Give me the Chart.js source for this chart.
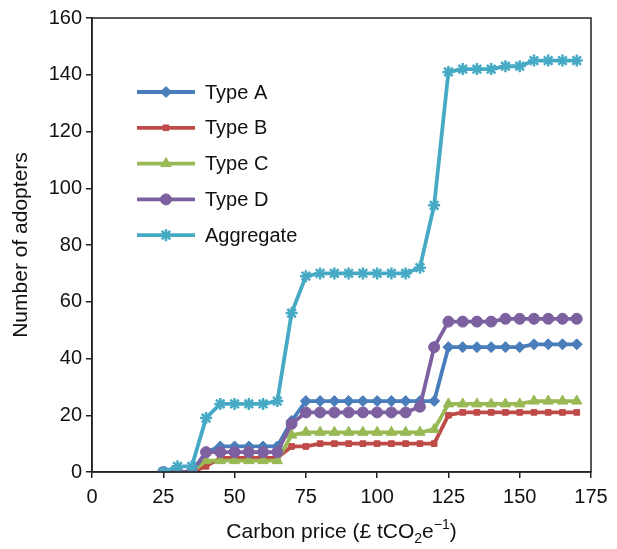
<!DOCTYPE html>
<html>
<head>
<meta charset="utf-8">
<script src="https://cdn.jsdelivr.net/npm/chart.js@4"></script>
<style>
  body { margin: 0; background: #fff; }
  #wrap { width: 617px; height: 549px; }
</style>
</head>
<body>
<div id="wrap"><canvas id="adoptersChart" width="617" height="549"></canvas></div>
<script>
// carbon price (x) and number of adopters per type
const carbonPrice = [25, 30, 35, 40, 45, 50, 55, 60, 65, 70, 75, 80, 85, 90, 95,
                     100, 105, 110, 115, 120, 125, 130, 135, 140, 145, 150, 155, 160, 165, 170];
const typeA = [0, 0, 0, 7, 9, 9, 9, 9, 9, 18, 25, 25, 25, 25, 25,
               25, 25, 25, 25, 25, 44, 44, 44, 44, 44, 44, 45, 45, 45, 45];
const typeB = [0, 0, 0, 2, 5, 5, 5, 5, 5, 9, 9, 10, 10, 10, 10,
               10, 10, 10, 10, 10, 20, 21, 21, 21, 21, 21, 21, 21, 21, 21];
const typeC = [0, 0, 0, 4, 4, 4, 4, 4, 4, 13, 14, 14, 14, 14, 14,
               14, 14, 14, 14, 15, 24, 24, 24, 24, 24, 24, 25, 25, 25, 25];
const typeD = [0, 0, 0, 7, 7, 7, 7, 7, 7, 17, 21, 21, 21, 21, 21,
               21, 21, 21, 23, 44, 53, 53, 53, 53, 54, 54, 54, 54, 54, 54];
const aggregate = [0, 2, 2, 19, 24, 24, 24, 24, 25, 56, 69, 70, 70, 70, 70,
                   70, 70, 70, 72, 94, 141, 142, 142, 142, 143, 143, 145, 145, 145, 145];

const xTicks = [0, 25, 50, 75, 100, 125, 150, 175];
const yTicks = [0, 20, 40, 60, 80, 100, 120, 140, 160];

const seriesNames = ['Type A', 'Type B', 'Type C', 'Type D', 'Aggregate'];
const seriesColors = ['#4a7ebb', '#be4b48', '#98b954', '#7d60a0', '#46aac5'];
const seriesMarkers = ['rectRot', 'rect', 'triangle', 'circle', 'star'];
const seriesRadius = [5.5, 4, 6, 5.5, 6];
const seriesOrder = [2, 4, 3, 1, 0];
const seriesValues = [typeA, typeB, typeC, typeD, aggregate];

const FONT = '"Liberation Sans", Arial, sans-serif';

const datasets = seriesNames.map((name, i) => ({
    label: name,
    data: carbonPrice.map((x, j) => ({ x: x, y: seriesValues[i][j] })),
    borderColor: seriesColors[i],
    backgroundColor: seriesColors[i],
    pointStyle: seriesMarkers[i],
    pointRadius: seriesRadius[i],
    pointBorderWidth: seriesMarkers[i] === 'star' ? 2.5 : 1,
    borderWidth: 3.8,
    tension: 0,
    order: seriesOrder[i]
}));

// box around plot area, x title with sub/superscript, legend inside plot
const extras = {
    id: 'extras',
    afterDraw(chart) {
        const ctx = chart.ctx;
        const a = chart.chartArea;
        ctx.save();
        ctx.strokeStyle = '#222';
        ctx.lineWidth = 1.5;
        ctx.strokeRect(a.left, a.top, a.right - a.left, a.bottom - a.top);

        // x axis title
        ctx.fillStyle = '#111';
        ctx.textBaseline = 'alphabetic';
        const base = 538;
        const parts = [
            { t: 'Carbon price (£ tCO', size: 21, dy: 0 },
            { t: '2', size: 14, dy: 5 },
            { t: 'e', size: 21, dy: 0 },
            { t: '\u22121', size: 14, dy: -9 },
            { t: ')', size: 21, dy: 0 }
        ];
        let total = 0;
        parts.forEach(p => { ctx.font = p.size + 'px ' + FONT; p.w = ctx.measureText(p.t).width; total += p.w; });
        let x = (a.left + a.right) / 2 - total / 2;
        parts.forEach(p => {
            ctx.font = p.size + 'px ' + FONT;
            ctx.fillText(p.t, x, base + p.dy);
            x += p.w;
        });

        // legend
        const lx0 = 137, lx1 = 195, tx = 205;
        seriesNames.forEach((name, i) => {
            const y = 92 + i * 35.8;
            ctx.strokeStyle = seriesColors[i];
            ctx.lineWidth = 3.8;
            ctx.beginPath();
            ctx.moveTo(lx0, y);
            ctx.lineTo(lx1, y);
            ctx.stroke();
            ctx.fillStyle = seriesColors[i];
            ctx.lineWidth = seriesMarkers[i] === 'star' ? 2.5 : 1;
            Chart.helpers.drawPoint(ctx, {
                pointStyle: seriesMarkers[i],
                radius: seriesRadius[i],
                rotation: 0,
                borderWidth: seriesMarkers[i] === 'star' ? 2.5 : 1
            }, (lx0 + lx1) / 2, y);
            ctx.fillStyle = '#111';
            ctx.font = '20px ' + FONT;
            ctx.textBaseline = 'middle';
            ctx.fillText(name, tx, y + 1);
        });
        ctx.restore();
    }
};

const ctxEl = document.getElementById('adoptersChart');
new Chart(ctxEl.getContext('2d'), {
    type: 'line',
    data: { datasets: datasets },
    options: {
        responsive: false,
        animation: false,
        layout: { padding: { top: 18, right: 26, left: 0, bottom: 0 } },
        plugins: { legend: { display: false }, tooltip: { enabled: false } },
        scales: {
            x: {
                type: 'linear',
                min: 0,
                max: 175,
                afterBuildTicks: scale => { scale.ticks = xTicks.map(v => ({ value: v })); },
                afterFit: scale => { scale.height = 77; },
                grid: { drawOnChartArea: false, drawTicks: true, tickLength: 6, color: '#222', lineWidth: 1.5 },
                border: { display: true, color: '#222', width: 1.5 },
                ticks: { color: '#111', font: { family: FONT, size: 20 }, padding: 7, maxRotation: 0 }
            },
            y: {
                min: 0,
                max: 160,
                afterBuildTicks: scale => { scale.ticks = yTicks.map(v => ({ value: v })); },
                afterFit: scale => { scale.width = 92; },
                grid: { drawOnChartArea: false, drawTicks: true, tickLength: 6, color: '#222', lineWidth: 1.5 },
                border: { display: true, color: '#222', width: 1.5 },
                ticks: { color: '#111', font: { family: FONT, size: 20 }, padding: 4 },
                title: { display: true, text: 'Number of adopters', color: '#111', font: { family: FONT, size: 21 }, padding: { top: 9, bottom: 4 } }
            }
        }
    },
    plugins: [extras]
});
</script>
</body>
</html>
